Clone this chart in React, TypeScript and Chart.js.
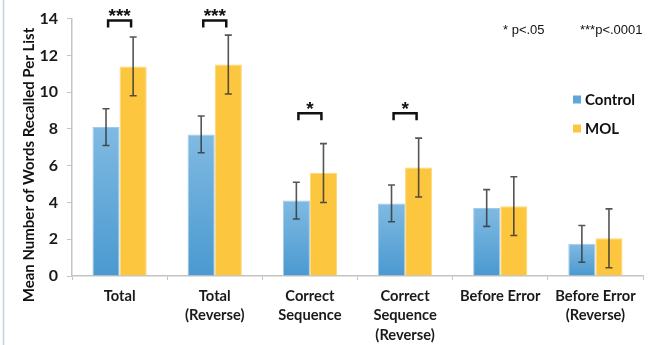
import React, { useEffect, useRef } from "react";
import { Chart, registerables } from "chart.js";

Chart.register(...registerables);

const categories: string[][] = [
  ["Total"],
  ["Total", "(Reverse)"],
  ["Correct", "Sequence"],
  ["Correct", "Sequence", "(Reverse)"],
  ["Before Error"],
  ["Before Error", "(Reverse)"],
];
const controlMeans = [8.1, 7.7, 4.1, 3.95, 3.7, 1.75];
const controlErrors = [1.0, 1.0, 1.0, 1.0, 1.0, 1.0];
const molMeans = [11.4, 11.5, 5.6, 5.9, 3.8, 2.05];
const molErrors = [1.6, 1.6, 1.6, 1.6, 1.6, 1.6];
const sigLabels = ["***", "***", "*", "*", "", ""];
const sigLevels = [13.9, 13.9, 8.85, 8.85, 0, 0];
const seriesNames = ["Control", "MOL"];
const pNotes = ["* p<.05", "***p<.0001"];
const yTitle = "Mean Number of Words Recalled Per List";

const BOLD = "Lato, 'Open Sans', sans-serif";
const SANS = "'Liberation Sans', Arial, sans-serif";

function blueGradient(ctx: any) {
  const chart = ctx.chart;
  const area = chart.chartArea;
  const y = chart.scales && chart.scales.y;
  if (!area || !y || ctx.raw === undefined) return "#62a8da";
  const top = y.getPixelForValue(ctx.raw);
  const base = y.getPixelForValue(0);
  if (!isFinite(top) || !isFinite(base) || top === base) return "#62a8da";
  const g = chart.ctx.createLinearGradient(0, top, 0, base);
  g.addColorStop(0, "#80bae2");
  g.addColorStop(1, "#4a99d0");
  return g;
}

const extrasPlugin = {
  id: "extras",
  beforeDraw(chart: any) {
    const c = chart.ctx;
    c.save();
    c.strokeStyle = "#c3d3e2";
    c.lineWidth = 1.5;
    c.beginPath();
    c.moveTo(3.5, 0);
    c.lineTo(3.5, chart.height);
    c.stroke();
    c.restore();
  },
  afterDraw(chart: any) {
    const c = chart.ctx;
    c.save();
    c.translate(29, 165);
    c.rotate(-Math.PI / 2);
    c.font = "bold 15px " + BOLD;
    c.fillStyle = "#111";
    c.textAlign = "center";
    c.textBaseline = "middle";
    c.fillText(yTitle, 0, 0);
    c.restore();
  },
  afterDatasetsDraw(chart: any) {
    const c = chart.ctx;
    const ys = chart.scales.y;
    const xs = chart.scales.x;
    const errs = [controlErrors, molErrors];
    const means = [controlMeans, molMeans];
    c.save();
    // error bars
    c.strokeStyle = "rgba(55,55,55,0.85)";
    c.lineWidth = 1.6;
    for (let d = 0; d < 2; d++) {
      const meta = chart.getDatasetMeta(d);
      meta.data.forEach((el: any, j: number) => {
        const x = el.x;
        const yt = ys.getPixelForValue(means[d][j] + errs[d][j]);
        const yb = ys.getPixelForValue(means[d][j] - errs[d][j]);
        c.beginPath();
        c.moveTo(x, yt);
        c.lineTo(x, yb);
        c.moveTo(x - 3.5, yt);
        c.lineTo(x + 3.5, yt);
        c.moveTo(x - 3.5, yb);
        c.lineTo(x + 3.5, yb);
        c.stroke();
      });
    }
    // significance brackets
    c.strokeStyle = "#111";
    c.fillStyle = "#111";
    c.lineWidth = 2.5;
    c.lineJoin = "miter";
    sigLabels.forEach((lab, j) => {
      if (!lab) return;
      const cx = xs.getPixelForValue(j);
      const yTop = ys.getPixelForValue(sigLevels[j]);
      c.beginPath();
      c.moveTo(cx - 11.5, yTop + 7);
      c.lineTo(cx - 11.5, yTop);
      c.lineTo(cx + 11.5, yTop);
      c.lineTo(cx + 11.5, yTop + 7);
      c.stroke();
      c.font = "bold 19px " + SANS;
      c.textAlign = "center";
      c.textBaseline = "alphabetic";
      c.fillText(lab, cx, yTop + 2);
    });
    // p-value notes
    c.font = "13px " + SANS;
    c.textAlign = "left";
    c.textBaseline = "middle";
    c.fillStyle = "#111";
    c.fillText(pNotes[0], 503, 30);
    c.fillText(pNotes[1], 580, 30);
    // legend
    const colors = ["#5fa7da", "#fdc63f"];
    c.font = "bold 15px " + BOLD;
    seriesNames.forEach((name, i) => {
      const yc = 100 + i * 29;
      c.fillStyle = colors[i];
      c.fillRect(573, yc - 4.5, 8, 8);
      c.fillStyle = "#111";
      c.fillText(name, 585, yc);
    });
    c.restore();
  },
};

export default function App() {
  const ref = useRef<HTMLCanvasElement>(null);
  useEffect(() => {
    document.body.style.margin = "0";
    const canvas = ref.current!;
    const chart = new Chart(canvas, {
      type: "bar",
      data: {
        labels: categories,
        datasets: [
          {
            label: seriesNames[0],
            data: controlMeans,
            backgroundColor: blueGradient as any,
            borderColor: "#9fcaea",
            borderWidth: 1,
            categoryPercentage: 0.57,
            barPercentage: 1.0,
          },
          {
            label: seriesNames[1],
            data: molMeans,
            backgroundColor: "#fdc63f",
            borderColor: "#fdd778",
            borderWidth: 1,
            categoryPercentage: 0.57,
            barPercentage: 1.0,
          },
        ],
      },
      options: {
        animation: false,
        responsive: false,
        devicePixelRatio: 1,
        layout: { padding: { top: 15, right: 7, left: 0, bottom: 0 } },
        plugins: {
          legend: { display: false },
          tooltip: { enabled: false },
        },
        scales: {
          x: {
            grid: {
              drawOnChartArea: false,
              drawTicks: true,
              tickLength: 4,
              color: "#c4c4c4",
              offset: true,
            },
            border: { color: "#c4c4c4", width: 1.5 },
            ticks: {
              color: "#1a1a1a",
              font: { family: BOLD, size: 14.7, weight: "bold", lineHeight: 1.3 },
              padding: 7,
              maxRotation: 0,
              autoSkip: false,
            },
            afterFit: (s: any) => {
              s.height = 69;
            },
          },
          y: {
            min: 0,
            max: 14,
            ticks: {
              stepSize: 2,
              color: "#1a1a1a",
              font: { family: BOLD, size: 16, weight: "bold" },
              padding: 9,
            },
            grid: {
              drawOnChartArea: false,
              drawTicks: true,
              tickLength: 5,
              color: "#c4c4c4",
            },
            border: { color: "#c4c4c4", width: 1.5 },
            title: { display: false },
            afterFit: (s: any) => {
              s.width = 72;
            },
          },
        },
      },
      plugins: [extrasPlugin],
    });
    return () => chart.destroy();
  }, []);
  return <canvas ref={ref} width={650} height={345} style={{ display: "block" }} />;
}
